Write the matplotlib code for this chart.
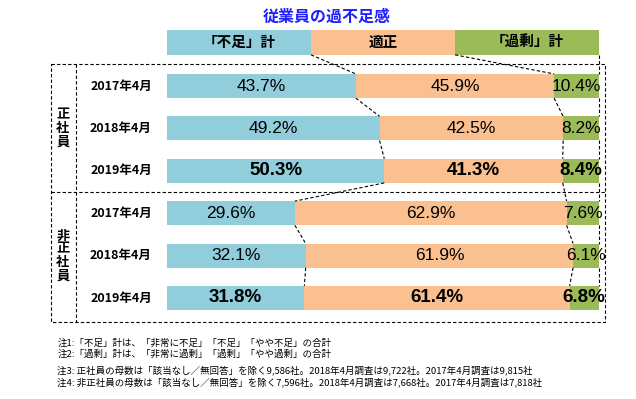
import matplotlib.pyplot as plt
import numpy as np

# data
title = '従業員の過不足感'
categories = ['「不足」計', '適正', '「過剰」計']
groups = ['正社員', '非正社員']
years = ['2017年4月', '2018年4月', '2019年4月', '2017年4月', '2018年4月', '2019年4月']
shortage = [43.7, 49.2, 50.3, 29.6, 32.1, 31.8]
adequate = [45.9, 42.5, 41.3, 62.9, 61.9, 61.4]
surplus = [10.4, 8.2, 8.4, 7.6, 6.1, 6.8]
bold_rows = [2, 5]
notes = [
    '注1:「不足」計は、「非常に不足」「不足」「やや不足」の合計',
    '注2:「過剰」計は、「非常に過剰」「過剰」「やや過剰」の合計',
    '注3: 正社員の母数は「該当なし／無回答」を除く9,586社。2018年4月調査は9,722社。2017年4月調査は9,815社',
    '注4: 非正社員の母数は「該当なし／無回答」を除く7,596社。2018年4月調査は7,668社。2017年4月調査は7,818社',
]

colors = ['#92cddc', '#fac090', '#9bbb59']
cjk = ['Noto Sans CJK JP', 'DejaVu Sans']
num_font = ['Liberation Sans', 'DejaVu Sans']

W, H = 636, 399
fig = plt.figure(figsize=(W / 100, H / 100), dpi=100)
ax = fig.add_axes([167 / W, 0, (599 - 167) / W, 1])
ax.set_xlim(0, 100)
# rows are ~42.4 px apart, first row centred at y=86 px
ax.set_ylim((H - 86) / 42.4, -86 / 42.4)
ax.axis('off')

h = 0.57
ypos = np.arange(len(years))
vals = np.array([shortage, adequate, surplus])
lefts = np.vstack([np.zeros(len(years)), np.cumsum(vals, axis=0)[:-1]])

for k in range(3):
    ax.barh(ypos, vals[k], left=lefts[k], height=h, color=colors[k])
    for i in ypos:
        bold = i in bold_rows
        ax.text(lefts[k][i] + vals[k][i] / 2, i, f'{vals[k][i]:.1f}%',
                ha='center', va='center', family=num_font,
                fontsize=13.5 if bold else 12.5,
                fontweight='bold' if bold else 'normal')

# header bar
yh = -1.03
hh = 0.59
head_w = [100 / 3] * 3
head_l = np.cumsum([0] + head_w[:-1])
ax.barh([yh] * 3, head_w, left=head_l, height=hh, color=colors)
for l, w, c in zip(head_l, head_w, categories):
    ax.text(l + w / 2, yh, c, ha='center', va='center', family=cjk,
            fontsize=10.5, fontweight='bold')

ax.text(37, -1.62, title, ha='center', va='center', family=cjk,
        fontsize=11.5, fontweight='bold', color='#1f1fff')

# dashed connectors between segment boundaries
ls = dict(color='black', lw=0.8, ls=(0, (3, 2)), clip_on=False)
b1 = np.array(shortage)
b2 = b1 + np.array(adequate)
ax.plot([100 / 3, b1[0]], [yh + hh / 2, -h / 2], **ls)
ax.plot([200 / 3, b2[0]], [yh + hh / 2, -h / 2], **ls)
ax.plot([100, 100], [yh + hh / 2, -h / 2], **ls)
for i in range(len(years) - 1):
    for b in (b1, b2, np.full(len(years), 100.0)):
        ax.plot([b[i], b[i + 1]], [i + h / 2, i + 1 - h / 2], **ls)

# dashed frame around the rows
x0, x1, xd = -26.85, 101.4, -21.1
y0, y1, ym = -0.52, 5.57, 2.5
ax.plot([x0, x1, x1, x0, x0], [y0, y0, y1, y1, y0], **ls)
ax.plot([x0, x1], [ym, ym], **ls)
ax.plot([xd, xd], [y0, y1], **ls)

for i, y in enumerate(years):
    ax.text(-3.5, i, y, ha='right', va='center', family=cjk,
            fontsize=9, fontweight='bold')

for g, yc in zip(groups, [1.0, 4.0]):
    ax.text(-24.1, yc, '\n'.join(g), ha='center', va='center', family=cjk,
            fontsize=9.5, fontweight='bold', linespacing=0.95)

note_y = [6.06, 6.33, 6.70, 7.00]
for n, ny in zip(notes, note_y):
    ax.text(-25.4, ny, n, ha='left', va='center', family=cjk, fontsize=6.8)

fig.savefig('out.png', dpi=100)
